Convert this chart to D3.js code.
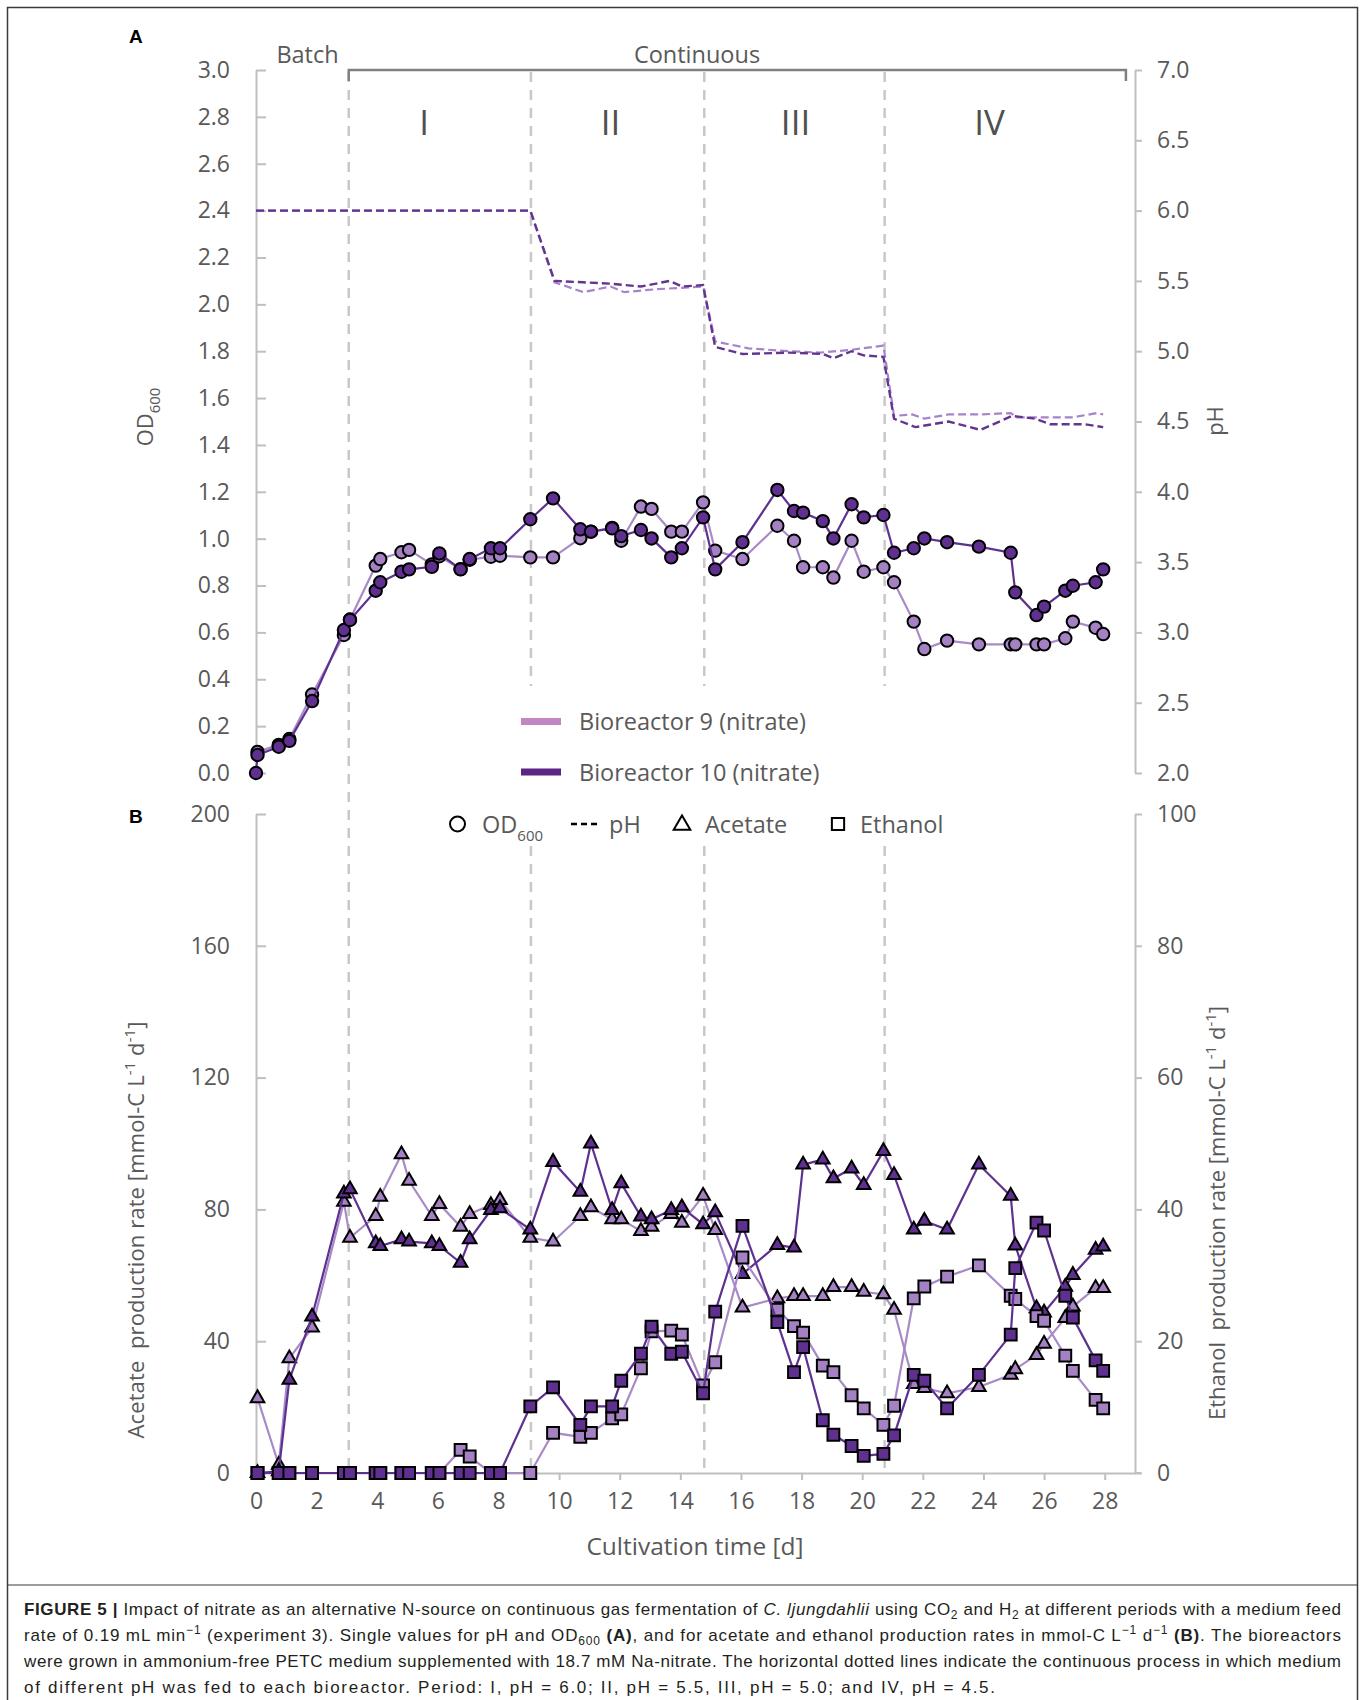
<!DOCTYPE html>
<html>
<head>
<meta charset="utf-8">
<script src="https://cdn.jsdelivr.net/npm/d3@7"></script>
<style>
  body { margin: 0; background: #fff; }
  svg { display: block; font-family: "Open Sans", "Noto Sans", sans-serif; }
  text { white-space: pre; }
</style>
</head>
<body>
<svg id="fig" width="1365" height="1700"></svg>
<script>
// ---------- data ----------
// OD600 sampling times (d); first entry is the inoculation point (reactor 10 only)
const odDays = [0, 0.05, 0.75, 1.1, 1.85, 2.9, 3.1, 3.95, 4.1, 4.8, 5.05, 5.8, 6.05, 6.75, 7.05, 7.75, 8.05,
  9.05, 9.8, 10.7, 11.05, 11.75, 12.05, 12.7, 13.05, 13.7, 14.05, 14.75, 15.15, 16.05, 17.2, 17.75, 18.05,
  18.7, 19.05, 19.65, 20.05, 20.7, 21.05, 21.7, 22.05, 22.8, 23.85, 24.9, 25.05, 25.75, 26.0, 26.7, 26.95,
  27.7, 27.95];
const od9 = [null, 0.09, 0.12, 0.145, 0.335, 0.589, 0.655, 0.885, 0.913, 0.942, 0.952, 0.89, 0.925, 0.87,
  0.91, 0.923, 0.927, 0.92, 0.92, 1.002, 1.03, 1.046, 0.991, 1.137, 1.127, 1.03, 1.03, 1.155, 0.949, 0.913,
  1.055, 0.991, 0.878, 0.878, 0.834, 0.991, 0.859, 0.878, 0.814, 0.646, 0.529, 0.565, 0.549, 0.549, 0.549,
  0.549, 0.549, 0.575, 0.646, 0.62, 0.593];
const od10 = [0.0, 0.077, 0.112, 0.137, 0.307, 0.61, 0.653, 0.778, 0.814, 0.859, 0.869, 0.88, 0.937, 0.869,
  0.913, 0.959, 0.959, 1.083, 1.172, 1.04, 1.03, 1.044, 1.011, 1.037, 1.001, 0.92, 0.959, 1.091, 0.869, 0.985,
  1.208, 1.118, 1.111, 1.075, 1.001, 1.147, 1.091, 1.101, 0.94, 0.959, 1.001, 0.985, 0.966, 0.94, 0.771,
  0.674, 0.71, 0.778, 0.799, 0.814, 0.869];

// pH readings
const phDays9 = [0, 9.05, 9.85, 10.8, 11.7, 12.15, 13.15, 13.95, 14.75, 15.15, 16.25, 17.6, 18.6, 19.65,
  20.7, 21.05, 21.65, 22.05, 22.85, 23.9, 24.9, 25.1, 26.95, 27.75, 27.95];
const ph9 = [6.0, 6.0, 5.49, 5.42, 5.46, 5.42, 5.44, 5.45, 5.46, 5.07, 5.02, 5.0, 4.99, 5.01, 5.04, 4.54,
  4.55, 4.52, 4.55, 4.55, 4.56, 4.53, 4.53, 4.56, 4.55];
const phDays10 = [0, 9.05, 9.85, 10.8, 11.7, 12.7, 13.65, 14.05, 14.75, 15.15, 16.05, 17.6, 18.7, 19.05,
  19.65, 20.05, 20.7, 21.05, 21.75, 22.85, 23.9, 24.95, 25.7, 26.2, 27.35, 27.95];
const ph10 = [6.0, 6.0, 5.5, 5.49, 5.48, 5.46, 5.5, 5.46, 5.47, 5.03, 4.98, 4.99, 4.98, 4.95, 5.0, 4.97,
  4.96, 4.52, 4.46, 4.5, 4.44, 4.54, 4.52, 4.48, 4.48, 4.46];

// production rates (mmol-C L-1 d-1)
const rateDays = [0.05, 0.75, 1.1, 1.85, 2.9, 3.1, 3.95, 4.1, 4.8, 5.05, 5.8, 6.05, 6.75, 7.05, 7.75, 8.05,
  9.05, 9.8, 10.7, 11.05, 11.75, 12.05, 12.7, 13.05, 13.7, 14.05, 14.75, 15.15, 16.05, 17.2, 17.75, 18.05,
  18.7, 19.05, 19.65, 20.05, 20.7, 21.05, 21.7, 22.05, 22.8, 23.85, 24.9, 25.05, 25.75, 26.0, 26.7, 26.95,
  27.7, 27.95];
const acetate9 = [22.7, 2.5, 34.8, 44.1, 82.3, 71.4, 78.0, 83.8, 96.7, 88.7, 78.0, 81.6, 74.7, 78.6, 81.3,
  82.8, 71.4, 70.2, 78.0, 80.6, 77.0, 77.0, 73.4, 74.7, 78.6, 75.9, 84.1, 73.7, 50.2, 53.0, 53.7, 53.7, 53.7,
  56.4, 56.4, 55.0, 54.2, 49.5, 27.0, 25.8, 24.2, 26.1, 29.8, 31.5, 35.8, 39.2, 47.0, 50.5, 56.1, 56.1];
const acetate10 = [0, 0.5, 28.3, 47.5, 84.8, 86.1, 69.7, 68.9, 70.9, 70.2, 69.7, 68.9, 63.8, 70.9, 79.8,
  80.3, 73.9, 94.4, 85.3, 100.0, 79.8, 87.9, 77.8, 77.0, 79.8, 80.6, 75.5, 79.1, 60.4, 69.2, 68.4, 93.6,
  95.1, 89.4, 92.4, 87.4, 97.7, 90.4, 73.9, 76.5, 73.9, 93.6, 84.1, 69.0, 50.0, 48.7, 56.5, 60.1, 67.7, 68.7];
const ethanol9 = [0, 0, 0, 0, 0, 0, 0, 0, 0, 0, 0, 0, 3.5, 2.5, 0, 0, 0, 6.1, 5.5, 6.1, 8.3, 8.9, 15.9,
  21.5, 21.6, 21.0, 13.3, 16.8, 32.7, 24.8, 22.3, 21.3, 16.3, 15.3, 11.8, 9.8, 7.3, 10.2, 26.5, 28.3, 29.8,
  31.5, 26.9, 26.4, 23.8, 23.1, 17.8, 15.5, 11.1, 9.8];
const ethanol10 = [0, 0, 0, 0, 0, 0, 0, 0, 0, 0, 0, 0, 0, 0, 0, 0, 10.1, 13.0, 7.3, 10.1, 10.1, 14.0, 18.1,
  22.2, 18.1, 18.4, 12.1, 24.5, 37.5, 22.9, 15.3, 19.1, 8.0, 5.8, 4.1, 2.6, 2.9, 5.7, 14.9, 14.0, 9.8, 14.9,
  21.0, 31.1, 38.0, 36.8, 26.9, 23.6, 17.1, 15.5];

// process periods
const periodStarts = [3.06, 9.07, 14.79, 20.74];
const periodNames = ["I", "II", "III", "IV"];
const periodNameDays = [5.55, 11.7, 17.8, 24.2];

// axis ticks
const odTicks = [0, 0.2, 0.4, 0.6, 0.8, 1.0, 1.2, 1.4, 1.6, 1.8, 2.0, 2.2, 2.4, 2.6, 2.8, 3.0];
const phTicks = [2.0, 2.5, 3.0, 3.5, 4.0, 4.5, 5.0, 5.5, 6.0, 6.5, 7.0];
const acetateTicks = [0, 40, 80, 120, 160, 200];
const ethanolTicks = [0, 20, 40, 60, 80, 100];
const dayTicks = [0, 2, 4, 6, 8, 10, 12, 14, 16, 18, 20, 22, 24, 26, 28];

// ---------- drawing ----------
const svg = d3.select("#fig");
const AXIS = "#bfbfbf", TXT = "#595959";
const LIGHT = "#a481c2", DARK = "#603090";
const LIGHT_LINE = "#a88ac7", DARK_LINE = "#5e3190";

const x = d3.scaleLinear().domain([0, 29]).range([256, 1135]);
const yOD = d3.scaleLinear().domain([0, 3]).range([773, 70]);
const yPH = d3.scaleLinear().domain([2, 7]).range([773, 70]);
const yAc = d3.scaleLinear().domain([0, 200]).range([1473, 814]);
const yEt = d3.scaleLinear().domain([0, 100]).range([1473, 814]);

// frame and caption rule
svg.append("rect").attr("x", 7.5).attr("y", 7.5).attr("width", 1350).attr("height", 1720)
  .attr("fill", "none").attr("stroke", "#3a3a3a").attr("stroke-width", 1.5);
svg.append("line").attr("x1", 7.5).attr("x2", 1357.5).attr("y1", 1585).attr("y2", 1585)
  .attr("stroke", "#3a3a3a").attr("stroke-width", 1.2);

function styleAxis(g) {
  g.attr("font-family", null).attr("font-size", null);
  g.selectAll(".domain").attr("stroke", AXIS).attr("stroke-width", 2);
  g.selectAll(".tick line").attr("stroke", AXIS).attr("stroke-width", 2);
  g.selectAll(".tick text").attr("fill", TXT).style("font-size", "23px");
}

// period separators
const sep = svg.append("g").attr("stroke", "#c8c8c8").attr("stroke-width", 2.5)
  .attr("stroke-dasharray", "10,8");
periodStarts.forEach((d, i) => {
  if (i === 0) {
    sep.append("line").attr("x1", x(d)).attr("x2", x(d)).attr("y1", 72).attr("y2", 1473);
  } else {
    sep.append("line").attr("x1", x(d)).attr("x2", x(d)).attr("y1", 72).attr("y2", 686);
    sep.append("line").attr("x1", x(d)).attr("x2", x(d)).attr("y1", 846).attr("y2", 1473);
  }
});

// axes, panel A
svg.append("g").attr("transform", "translate(256,0)")
  .call(d3.axisLeft(yOD).tickValues(odTicks).tickFormat(d3.format(".1f"))
    .tickSizeInner(-10).tickSizeOuter(0).tickPadding(26))
  .call(styleAxis);
svg.append("g").attr("transform", "translate(1135,0)")
  .call(d3.axisRight(yPH).tickValues(phTicks).tickFormat(d3.format(".1f"))
    .tickSizeInner(7).tickSizeOuter(0).tickPadding(15))
  .call(styleAxis);

// axes, panel B
svg.append("g").attr("transform", "translate(256,0)")
  .call(d3.axisLeft(yAc).tickValues(acetateTicks).tickFormat(d3.format("d"))
    .tickSizeInner(-10).tickSizeOuter(0).tickPadding(26))
  .call(styleAxis);
svg.append("g").attr("transform", "translate(1135,0)")
  .call(d3.axisRight(yEt).tickValues(ethanolTicks).tickFormat(d3.format("d"))
    .tickSizeInner(7).tickSizeOuter(0).tickPadding(15))
  .call(styleAxis);
svg.append("g").attr("transform", "translate(0,1473)")
  .call(d3.axisBottom(x).tickValues(dayTicks).tickFormat(d3.format("d"))
    .tickSizeInner(7).tickSizeOuter(0).tickPadding(13))
  .call(styleAxis);
svg.append("line").attr("x1", 1135).attr("x2", 1141).attr("y1", 1473).attr("y2", 1473)
  .attr("stroke", AXIS).attr("stroke-width", 2);

// batch / continuous bracket
svg.append("path")
  .attr("d", `M${x(periodStarts[0])},81V70H${x(28.7)}V81`)
  .attr("fill", "none").attr("stroke", "#808080").attr("stroke-width", 2.5);
svg.append("text").attr("x", x(1.7)).attr("y", 63).attr("text-anchor", "middle")
  .attr("fill", TXT).style("font-size", "23.5px").text("Batch");
svg.append("text").attr("x", x(14.55)).attr("y", 63).attr("text-anchor", "middle")
  .attr("fill", TXT).style("font-size", "23.5px").text("Continuous");

// period numerals
svg.append("g").selectAll("text").data(periodNames).join("text")
  .attr("x", (d, i) => x(periodNameDays[i])).attr("y", 135).attr("text-anchor", "middle")
  .attr("fill", "#505050").style("font-size", "35px").text(d => d);

// panel letters
svg.append("text").attr("x", 129).attr("y", 43).style("font-family", "'Liberation Sans', Arial, sans-serif")
  .style("font-weight", "bold").style("font-size", "19px").text("A");
svg.append("text").attr("x", 129).attr("y", 823).style("font-family", "'Liberation Sans', Arial, sans-serif")
  .style("font-weight", "bold").style("font-size", "19px").text("B");

// rotated axis titles
function rotLabel(cx, cy, segs, size, len) {
  const t = svg.append("text").attr("transform", `translate(${cx},${cy}) rotate(-90)`)
    .attr("text-anchor", "middle").attr("fill", TXT).style("font-size", size + "px");
  let off = 0;
  segs.forEach(([s, k]) => {
    const want = k === "sub" ? size * 0.3 : k === "sup" ? -size * 0.4 : 0;
    const ts = t.append("tspan").text(s).attr("dy", want - off);
    if (k) ts.style("font-size", (size * 0.68) + "px");
    off = want;
  });
  if (len) t.attr("textLength", len).attr("lengthAdjust", "spacing");
  return t;
}
rotLabel(153, 417, [["OD"], ["600", "sub"]], 22);
rotLabel(1223, 421, [["pH"]], 22);
rotLabel(144, 1230, [["Acetate  production rate [mmol-C L"], ["-1", "sup"], [" d"], ["-1", "sup"], ["]"]], 22, 417);
rotLabel(1225, 1213, [["Ethanol  production rate [mmol-C L"], ["-1", "sup"], [" d"], ["-1", "sup"], ["]"]], 22, 414);

svg.append("text").attr("x", 695).attr("y", 1555).attr("text-anchor", "middle")
  .attr("fill", TXT).style("font-size", "24.5px").text("Cultivation time [d]");

// ---------- panel A series ----------
const pA = svg.append("g");
function phLine(days, vals, color, width) {
  const pts = days.map((d, i) => [d, vals[i]]);
  pA.append("path").attr("d", d3.line().x(p => x(p[0])).y(p => yPH(p[1]))(pts))
    .attr("fill", "none").attr("stroke", color).attr("stroke-width", width)
    .attr("stroke-dasharray", "8,4");
}
phLine(phDays9, ph9, "#a783cb", 2.2);
phLine(phDays10, ph10, "#64358f", 2.4);

function odSeries(vals, fill, lineColor) {
  const pts = odDays.map((d, i) => [d, vals[i]]).filter(p => p[1] != null);
  pA.append("path").attr("d", d3.line().x(p => x(p[0])).y(p => yOD(p[1]))(pts))
    .attr("fill", "none").attr("stroke", lineColor).attr("stroke-width", 2.2);
  pA.append("g").selectAll("circle").data(pts).join("circle")
    .attr("cx", p => x(p[0])).attr("cy", p => yOD(p[1])).attr("r", 6.2)
    .attr("fill", fill).attr("stroke", "#000").attr("stroke-width", 2);
}
odSeries(od9, LIGHT, LIGHT_LINE);
odSeries(od10, DARK, DARK_LINE);

// legend A
const legA = svg.append("g");
[["#c287c2", "Bioreactor 9 (nitrate)", 721.5], ["#5c2483", "Bioreactor 10 (nitrate)", 772]].forEach(([c, label, yy]) => {
  legA.append("line").attr("x1", 521).attr("x2", 561).attr("y1", yy).attr("y2", yy)
    .attr("stroke", c).attr("stroke-width", 7);
  legA.append("text").attr("x", 579).attr("y", yy + 8.5).attr("fill", TXT)
    .style("font-size", "23.5px").text(label);
});

// ---------- panel B series ----------
const pB = svg.append("g");
const tri = d3.symbol().type(d3.symbolTriangle).size(80);
const sq = d3.symbol().type(d3.symbolSquare).size(140);
function rateSeries(vals, yScale, shape, fill, lineColor) {
  const pts = rateDays.map((d, i) => [d, vals[i]]);
  pB.append("path").attr("d", d3.line().x(p => x(p[0])).y(p => yScale(p[1]))(pts))
    .attr("fill", "none").attr("stroke", lineColor).attr("stroke-width", 2.2);
  pB.append("g").selectAll("path").data(pts).join("path")
    .attr("transform", p => `translate(${x(p[0])},${yScale(p[1])})`)
    .attr("d", shape).attr("fill", fill).attr("stroke", "#000").attr("stroke-width", 2)
    .attr("stroke-linejoin", "miter");
}
rateSeries(acetate9, yAc, tri, LIGHT, LIGHT_LINE);
rateSeries(acetate10, yAc, tri, DARK, DARK_LINE);
rateSeries(ethanol9, yEt, sq, LIGHT, LIGHT_LINE);
rateSeries(ethanol10, yEt, sq, DARK, DARK_LINE);

// legend B (marker / line style key)
const legB = svg.append("g");
const ly = 824;
legB.append("circle").attr("cx", 457.5).attr("cy", ly).attr("r", 7.5)
  .attr("fill", "none").attr("stroke", "#000").attr("stroke-width", 2);
const odT = legB.append("text").attr("x", 482).attr("y", ly + 8.5).attr("fill", TXT).style("font-size", "23.5px");
odT.append("tspan").text("OD");
odT.append("tspan").attr("dy", 8).style("font-size", "15px").text("600");
legB.append("line").attr("x1", 571).attr("x2", 599).attr("y1", ly).attr("y2", ly)
  .attr("stroke", "#000").attr("stroke-width", 2.5).attr("stroke-dasharray", "6,4");
legB.append("text").attr("x", 609).attr("y", ly + 8.5).attr("fill", TXT).style("font-size", "23.5px").text("pH");
legB.append("path").attr("transform", `translate(682,${ly + 1})`)
  .attr("d", d3.symbol().type(d3.symbolTriangle).size(120)).attr("fill", "none")
  .attr("stroke", "#000").attr("stroke-width", 2);
legB.append("text").attr("x", 705).attr("y", ly + 8.5).attr("fill", TXT).style("font-size", "23.5px").text("Acetate");
legB.append("path").attr("transform", `translate(838,${ly})`)
  .attr("d", d3.symbol().type(d3.symbolSquare).size(150)).attr("fill", "none")
  .attr("stroke", "#000").attr("stroke-width", 2);
legB.append("text").attr("x", 860).attr("y", ly + 8.5).attr("fill", TXT).style("font-size", "23.5px").text("Ethanol");

// ---------- caption ----------
const capLines = [
  [[["FIGURE 5 |", "b"], [" Impact of nitrate as an alternative N-source on continuous gas fermentation of "],
    ["C. ljungdahlii", "i"], [" using CO"], ["2", "sub"], [" and H"], ["2", "sub"],
    [" at different periods with a medium feed"]], 1317],
  [[["rate of 0.19 mL min"], ["\u22121", "sup"], [" (experiment 3). Single values for pH and OD"], ["600", "sub"],
    [" "], ["(A)", "b"], [", and for acetate and ethanol production rates in mmol-C L"], ["\u22121", "sup"],
    [" d"], ["\u22121", "sup"], [" "], ["(B)", "b"], [". The bioreactors"]], 1317],
  [[["were grown in ammonium-free PETC medium supplemented with 18.7 mM Na-nitrate. The horizontal dotted lines indicate the continuous process in which medium"]], 1317],
  [[["of different pH was fed to each bioreactor. Period: I, pH = 6.0; II, pH = 5.5, III, pH = 5.0; and IV, pH = 4.5."]], 971]
];
const capG = svg.append("g").style("font-family", "'Liberation Sans Narrow', 'Liberation Sans', Arial, sans-serif")
  .style("font-size", "17px").attr("fill", "#231f20");
capLines.forEach(([segs, len], li) => {
  const t = capG.append("text").attr("x", 24).attr("y", 1615 + li * 26);
  let off = 0;
  segs.forEach(([s, k]) => {
    const want = k === "sub" ? 4 : k === "sup" ? -7 : 0;
    const ts = t.append("tspan").text(s).attr("dy", want - off);
    off = want;
    if (k === "b") ts.style("font-weight", "bold");
    if (k === "i") ts.style("font-style", "italic");
    if (k === "sub" || k === "sup") ts.style("font-size", "12px");
  });
  t.attr("textLength", len).attr("lengthAdjust", "spacing");
});
</script>
</body>
</html>
